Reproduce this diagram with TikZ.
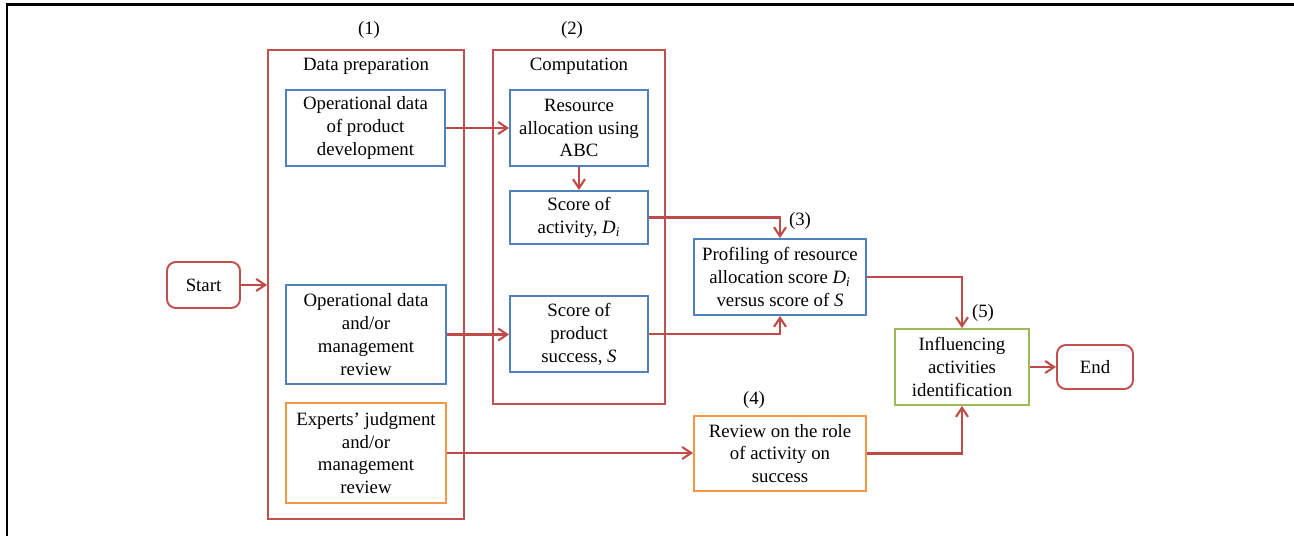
\documentclass[tikz,border=0pt]{standalone}
\usepackage{fontspec}
\setmainfont{Liberation Serif}
\usetikzlibrary{positioning, arrows.meta, calc}
\definecolor{boxred}{HTML}{C0504D}
\definecolor{boxblue}{HTML}{4F81BD}
\definecolor{boxorange}{HTML}{F79646}
\definecolor{boxgreen}{HTML}{9BBB59}
\definecolor{arrred}{HTML}{BE4B48}
\newcommand{\scoreD}{\textit{D}\textsubscript{\textit{i}}}

\begin{document}
\begin{tikzpicture}[x=0.02cm, y=-0.02cm,
    grp/.style={rectangle, draw=boxred, line width=1.1pt, inner sep=0pt},
    blk/.style={rectangle, draw=boxblue, line width=1.1pt, align=center, inner sep=1pt, font=\fontsize{10.7}{13}\selectfont},
    ora/.style={blk, draw=boxorange},
    grn/.style={blk, draw=boxgreen},
    term/.style={blk, draw=boxred, rounded corners=5pt},
    lbl/.style={font=\fontsize{10.7}{13}\selectfont, inner sep=1pt},
    arr/.style={-{Straight Barb[length=1.8mm, width=2.4mm]}, line width=1.2pt, arrred}
]
    \useasboundingbox (0,0) rectangle (1294,536);
    % outer frame
    \draw[line width=1.7pt] (6,5) -- (1294,5);
    \draw[line width=1.7pt] (7,5) -- (7,536);
    % Group 1: data preparation
    \node[grp, minimum width=3.92cm, minimum height=9.38cm] (grpA) at (366,284.5) {};
    \node[lbl] (numA) at (369,30) {(1)};
    \node[lbl] (titA) at (366,66) {Data preparation};
    \node[blk, minimum width=3.18cm, minimum height=1.52cm] (opd) at (365.5,128) {Operational data\\of product\\development};
    \node[blk, minimum width=3.2cm, minimum height=1.98cm] (opm) at (366,334.5) {Operational data\\and/or\\management\\review};
    \node[ora, minimum width=3.2cm, minimum height=2cm] (exp) at (366,453) {Experts’ judgment\\and/or\\management\\review};
    % Group 2: computation
    \node[grp, minimum width=3.44cm, minimum height=7.08cm] (grpB) at (579,227) {};
    \node[lbl] (numB) at (572,30) {(2)};
    \node[lbl] (titB) at (579,66) {Computation};
    \node[blk, minimum width=2.76cm, minimum height=1.52cm] (res) at (579,128) {Resource\\allocation using\\ABC};
    \node[blk, minimum width=2.76cm, minimum height=1.06cm] (act) at (579,217.5) {Score of\\activity, \scoreD};
    \node[blk, minimum width=2.76cm, minimum height=1.52cm] (suc) at (579,334) {Score of\\product\\success, \textit{S}};
    % Steps 3 to 5
    \node[blk, minimum width=3.44cm, minimum height=1.52cm] (prof) at (780,277) {Profiling of resource\\allocation score \scoreD\\versus score of \textit{S}};
    \node[lbl] (numC) at (800,221) {(3)};
    \node[ora, minimum width=3.44cm, minimum height=1.5cm] (rev) at (780,453.5) {Review on the role\\of activity on\\success};
    \node[lbl] (numD) at (754,400) {(4)};
    \node[grn, minimum width=2.68cm, minimum height=1.52cm] (infl) at (962,367) {Influencing\\activities\\identification};
    \node[lbl] (numE) at (983,313) {(5)};
    \node[term, minimum width=1.46cm, minimum height=0.92cm] (start) at (203.5,285) {Start};
    \node[term, minimum width=1.52cm, minimum height=0.88cm] (end) at (1095,367) {End};
    % connectors
    \draw[arr] (start) -- (start -| grpA.west);
    \draw[arr] (opd) -- (res);
    \draw[arr] (res) -- (act);
    \draw[arr] (opm) -- (opm -| suc.west);
    \draw[arr] (exp) -- (exp -| rev.west);
    \draw[arr] (act.east) -| (prof.north);
    \draw[arr] (suc.east) -| (prof.south);
    \draw[arr] (prof.east) -| (infl.north);
    \draw[arr] (rev.east) -| (infl.south);
    \draw[arr] (infl) -- (end);
\end{tikzpicture}
\end{document}
